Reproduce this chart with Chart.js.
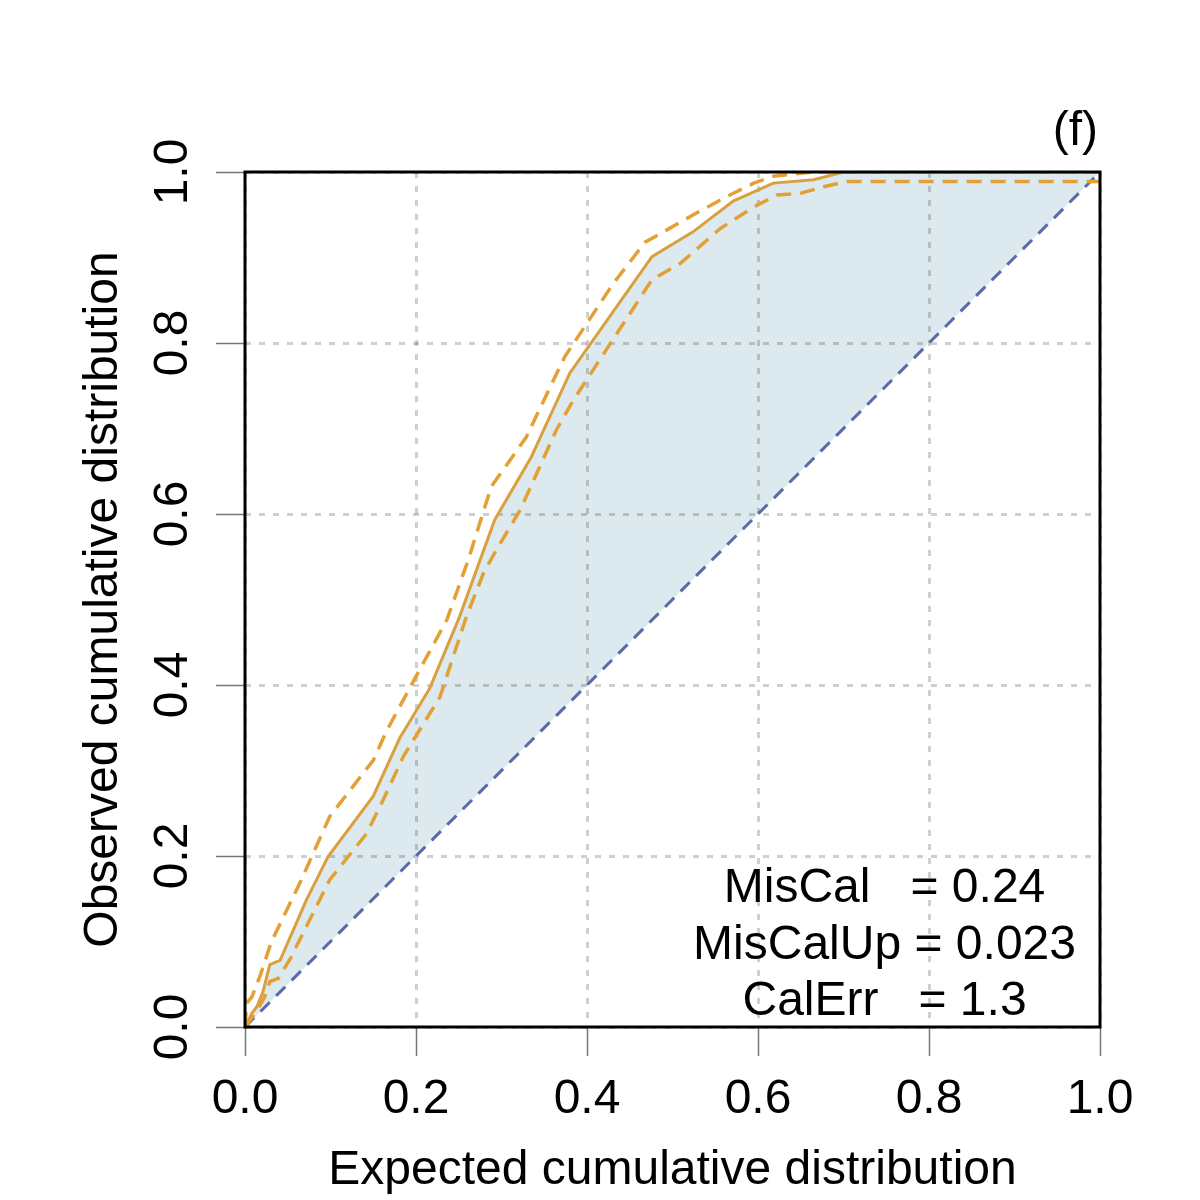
<!DOCTYPE html>
<html>
<head>
<meta charset="utf-8">
<script src="https://cdn.jsdelivr.net/npm/chart.js@4"></script>
<style>
  html, body { margin: 0; padding: 0; background: #fff; }
  #wrap { width: 1200px; height: 1200px; }
</style>
</head>
<body>
<div id="wrap"><canvas id="calib" width="1200" height="1200"></canvas></div>
<script>
// Observed vs expected cumulative distribution
const obsX = [0, 0.008, 0.014, 0.021, 0.029, 0.041, 0.072, 0.097, 0.150, 0.181, 0.216, 0.251, 0.292, 0.335, 0.380, 0.476, 0.524, 0.571, 0.618, 0.665, 0.700, 1.0];
const obsY = [0, 0.016, 0.024, 0.041, 0.073, 0.078, 0.149, 0.199, 0.270, 0.338, 0.396, 0.480, 0.593, 0.667, 0.765, 0.901, 0.930, 0.966, 0.987, 0.991, 1.0, 1.0];

// Upper band (dashed)
const upperX = [0, 0.002, 0.008, 0.018, 0.031, 0.064, 0.099, 0.150, 0.166, 0.200, 0.236, 0.261, 0.288, 0.329, 0.374, 0.431, 0.468, 0.493, 0.528, 0.563, 0.595, 0.618, 0.665, 1.0];
const upperY = [0, 0.028, 0.035, 0.061, 0.100, 0.168, 0.246, 0.312, 0.347, 0.410, 0.476, 0.546, 0.632, 0.690, 0.784, 0.870, 0.918, 0.932, 0.952, 0.971, 0.987, 0.995, 1.0, 1.0];

// Lower band (dashed)
const lowerX = [0, 0.012, 0.023, 0.029, 0.039, 0.053, 0.099, 0.142, 0.158, 0.185, 0.228, 0.259, 0.279, 0.294, 0.322, 0.364, 0.384, 0.476, 0.509, 0.556, 0.595, 0.622, 0.649, 0.678, 0.704, 1.0];
const lowerY = [0, 0.016, 0.035, 0.053, 0.057, 0.080, 0.172, 0.226, 0.258, 0.316, 0.386, 0.480, 0.531, 0.558, 0.605, 0.698, 0.733, 0.874, 0.893, 0.934, 0.959, 0.973, 0.975, 0.983, 0.989, 0.989];

// Perfect calibration line
const refX = [0, 1];
const refY = [0, 1];

const tickValues = [0, 0.2, 0.4, 0.6, 0.8, 1.0];
const statLines = ['MisCal   = 0.24', 'MisCalUp = 0.023', 'CalErr   = 1.3'];
const panelLabel = '(f)';

const FONT = '"Liberation Sans", Arial, Helvetica, sans-serif';
const FONT_SIZE = 48;
const ORANGE = '#d9a040';
const ORANGE_DASH = '#e3a035';
const BLUE = '#5a68b0';
const FILL = '#dceaef';

function pts(xs, ys) {
    return xs.map((x, i) => ({ x: x, y: ys[i] }));
}

// Black frame around the plotting region plus the text annotations
const framePlugin = {
    id: 'frame',
    afterDatasetsDraw(chart) {
        const { ctx, chartArea: a } = chart;
        ctx.save();
        ctx.strokeStyle = '#000';
        ctx.lineWidth = 3;
        ctx.strokeRect(a.left, a.top, a.right - a.left, a.bottom - a.top);
        ctx.restore();
    },
    afterDraw(chart) {
        const { ctx, chartArea: a } = chart;
        const xs = chart.scales.x;
        ctx.save();
        ctx.fillStyle = '#000';
        ctx.font = FONT_SIZE + 'px ' + FONT;
        ctx.textBaseline = 'alphabetic';
        // stats block, centred near x = 0.75
        ctx.textAlign = 'center';
        const cx = xs.getPixelForValue(0.748);
        statLines.forEach((t, i) => {
            ctx.fillText(t, cx, a.bottom - 125 + i * 56.5);
        });
        // panel tag
        ctx.textAlign = 'right';
        ctx.fillText(panelLabel, a.right - 2, a.top - 27);
        ctx.restore();
    }
};

const axisCommon = {
    type: 'linear',
    min: 0,
    max: 1,
    afterBuildTicks(scale) {
        scale.ticks = tickValues.map(v => ({ value: v }));
    },
    grid: {
        color: 'rgba(0,0,0,0.19)',
        lineWidth: 3,
        tickLength: 29,
        tickColor: '#777',
        tickWidth: 1.5,
        tickBorderDash: []
    },
    border: { display: false, dash: [6, 8] },
};

new Chart(document.getElementById('calib'), {
    type: 'scatter',
    data: {
        datasets: [
            {
                label: 'observed',
                data: pts(obsX, obsY),
                showLine: true,
                borderColor: ORANGE,
                borderWidth: 3,
                pointRadius: 0,
                backgroundColor: FILL,
                fill: { target: 3, above: FILL, below: FILL }
            },
            {
                label: 'upper',
                data: pts(upperX, upperY),
                showLine: true,
                borderColor: ORANGE_DASH,
                borderWidth: 3.5,
                borderDash: [15, 9],
                pointRadius: 0,
                fill: false
            },
            {
                label: 'lower',
                data: pts(lowerX, lowerY),
                showLine: true,
                borderColor: ORANGE_DASH,
                borderWidth: 3.5,
                borderDash: [15, 9],
                pointRadius: 0,
                fill: false
            },
            {
                label: 'reference',
                data: pts(refX, refY),
                showLine: true,
                borderColor: BLUE,
                borderWidth: 3,
                borderDash: [13, 9],
                pointRadius: 0,
                fill: false
            }
        ]
    },
    options: {
        responsive: false,
        animation: false,
        layout: { padding: { left: 0, top: 172, right: 100, bottom: 0 } },
        plugins: {
            legend: { display: false },
            tooltip: { enabled: false },
            filler: { drawTime: 'beforeDraw' }
        },
        scales: {
            x: Object.assign({}, axisCommon, {
                position: 'bottom',
                afterFit(scale) { scale.height = 173; },
                ticks: {
                    color: '#000',
                    font: { family: FONT, size: FONT_SIZE },
                    padding: 15,
                    maxRotation: 0,
                    callback: v => Number(v).toFixed(1)
                },
                title: {
                    display: true,
                    text: 'Expected cumulative distribution',
                    color: '#000',
                    font: { family: FONT, size: FONT_SIZE },
                    padding: 0
                }
            }),
            y: Object.assign({}, axisCommon, {
                position: 'left',
                afterFit(scale) { scale.width = 245; },
                ticks: {
                    color: '#000',
                    font: { family: FONT, size: FONT_SIZE },
                    padding: 9,
                    minRotation: 90,
                    maxRotation: 90,
                    crossAlign: 'center',
                    callback: v => Number(v).toFixed(1)
                },
                title: {
                    display: true,
                    text: 'Observed cumulative distribution',
                    color: '#000',
                    font: { family: FONT, size: FONT_SIZE },
                    padding: { top: 75, bottom: 0 }
                }
            })
        }
    },
    plugins: [framePlugin]
});
</script>
</body>
</html>
